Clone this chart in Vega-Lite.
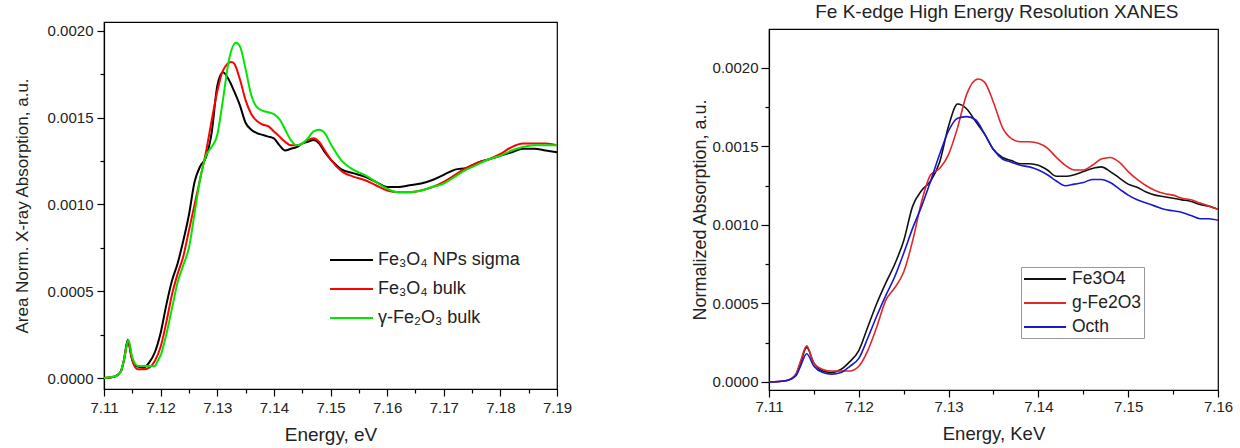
{
"$schema": "https://vega.github.io/schema/vega-lite/v6.json",
"padding": {"left": 12, "top": 2, "right": 5, "bottom": 0},
"config": {"font": "Liberation Sans", "view": {"stroke": "black", "strokeWidth": 1.2},
  "axis": {"grid": false, "domainColor": "black", "tickColor": "black", "labelColor": "#222", "titleColor": "#222", "titleFontWeight": "normal", "domainWidth": 1.2, "tickWidth": 1.2},
  "title": {"fontWeight": "normal", "color": "#222"}},
"datasets": {
"left": [
{"s":"Fe₃O₄ NPs sigma","e":7.110,"v":0},{"s":"Fe₃O₄ NPs sigma","e":7.111,"v":0.000002},{"s":"Fe₃O₄ NPs sigma","e":7.112,"v":0.00001},{"s":"Fe₃O₄ NPs sigma","e":7.113,"v":0.00004},{"s":"Fe₃O₄ NPs sigma","e":7.1135,"v":0.0001},{"s":"Fe₃O₄ NPs sigma","e":7.1142,"v":0.00022},{"s":"Fe₃O₄ NPs sigma","e":7.1148,"v":0.00013},{"s":"Fe₃O₄ NPs sigma","e":7.1155,"v":0.00007},{"s":"Fe₃O₄ NPs sigma","e":7.117,"v":0.00006},{"s":"Fe₃O₄ NPs sigma","e":7.118,"v":0.00009},{"s":"Fe₃O₄ NPs sigma","e":7.119,"v":0.00015},{"s":"Fe₃O₄ NPs sigma","e":7.120,"v":0.00026},{"s":"Fe₃O₄ NPs sigma","e":7.121,"v":0.00042},{"s":"Fe₃O₄ NPs sigma","e":7.122,"v":0.00056},{"s":"Fe₃O₄ NPs sigma","e":7.123,"v":0.00066},{"s":"Fe₃O₄ NPs sigma","e":7.124,"v":0.00079},{"s":"Fe₃O₄ NPs sigma","e":7.125,"v":0.00094},{"s":"Fe₃O₄ NPs sigma","e":7.126,"v":0.00113},{"s":"Fe₃O₄ NPs sigma","e":7.127,"v":0.00122},{"s":"Fe₃O₄ NPs sigma","e":7.128,"v":0.00127},{"s":"Fe₃O₄ NPs sigma","e":7.129,"v":0.00141},{"s":"Fe₃O₄ NPs sigma","e":7.130,"v":0.00168},{"s":"Fe₃O₄ NPs sigma","e":7.131,"v":0.00176},{"s":"Fe₃O₄ NPs sigma","e":7.132,"v":0.00172},{"s":"Fe₃O₄ NPs sigma","e":7.133,"v":0.00165},{"s":"Fe₃O₄ NPs sigma","e":7.134,"v":0.00157},{"s":"Fe₃O₄ NPs sigma","e":7.135,"v":0.00147},{"s":"Fe₃O₄ NPs sigma","e":7.136,"v":0.00143},{"s":"Fe₃O₄ NPs sigma","e":7.137,"v":0.00141},{"s":"Fe₃O₄ NPs sigma","e":7.138,"v":0.0014},{"s":"Fe₃O₄ NPs sigma","e":7.139,"v":0.00139},{"s":"Fe₃O₄ NPs sigma","e":7.140,"v":0.00138},{"s":"Fe₃O₄ NPs sigma","e":7.141,"v":0.00134},{"s":"Fe₃O₄ NPs sigma","e":7.142,"v":0.00131},{"s":"Fe₃O₄ NPs sigma","e":7.143,"v":0.00132},{"s":"Fe₃O₄ NPs sigma","e":7.144,"v":0.00133},{"s":"Fe₃O₄ NPs sigma","e":7.145,"v":0.00135},{"s":"Fe₃O₄ NPs sigma","e":7.146,"v":0.00136},{"s":"Fe₃O₄ NPs sigma","e":7.147,"v":0.00137},{"s":"Fe₃O₄ NPs sigma","e":7.148,"v":0.00135},{"s":"Fe₃O₄ NPs sigma","e":7.149,"v":0.0013},{"s":"Fe₃O₄ NPs sigma","e":7.150,"v":0.00126},{"s":"Fe₃O₄ NPs sigma","e":7.152,"v":0.0012},{"s":"Fe₃O₄ NPs sigma","e":7.154,"v":0.00118},{"s":"Fe₃O₄ NPs sigma","e":7.156,"v":0.00116},{"s":"Fe₃O₄ NPs sigma","e":7.158,"v":0.00113},{"s":"Fe₃O₄ NPs sigma","e":7.160,"v":0.0011},{"s":"Fe₃O₄ NPs sigma","e":7.162,"v":0.0011},{"s":"Fe₃O₄ NPs sigma","e":7.164,"v":0.00111},{"s":"Fe₃O₄ NPs sigma","e":7.166,"v":0.00112},{"s":"Fe₃O₄ NPs sigma","e":7.168,"v":0.00114},{"s":"Fe₃O₄ NPs sigma","e":7.170,"v":0.00117},{"s":"Fe₃O₄ NPs sigma","e":7.172,"v":0.0012},{"s":"Fe₃O₄ NPs sigma","e":7.174,"v":0.00121},{"s":"Fe₃O₄ NPs sigma","e":7.176,"v":0.00124},{"s":"Fe₃O₄ NPs sigma","e":7.178,"v":0.00126},{"s":"Fe₃O₄ NPs sigma","e":7.180,"v":0.00128},{"s":"Fe₃O₄ NPs sigma","e":7.182,"v":0.0013},{"s":"Fe₃O₄ NPs sigma","e":7.184,"v":0.00132},{"s":"Fe₃O₄ NPs sigma","e":7.186,"v":0.00132},{"s":"Fe₃O₄ NPs sigma","e":7.188,"v":0.00131},{"s":"Fe₃O₄ NPs sigma","e":7.190,"v":0.0013},
{"s":"Fe₃O₄ bulk","e":7.110,"v":0},{"s":"Fe₃O₄ bulk","e":7.112,"v":0.00001},{"s":"Fe₃O₄ bulk","e":7.113,"v":0.00004},{"s":"Fe₃O₄ bulk","e":7.1135,"v":0.0001},{"s":"Fe₃O₄ bulk","e":7.1143,"v":0.00021},{"s":"Fe₃O₄ bulk","e":7.115,"v":0.0001},{"s":"Fe₃O₄ bulk","e":7.116,"v":0.00005},{"s":"Fe₃O₄ bulk","e":7.117,"v":0.00005},{"s":"Fe₃O₄ bulk","e":7.118,"v":0.00006},{"s":"Fe₃O₄ bulk","e":7.119,"v":0.0001},{"s":"Fe₃O₄ bulk","e":7.120,"v":0.00018},{"s":"Fe₃O₄ bulk","e":7.121,"v":0.00032},{"s":"Fe₃O₄ bulk","e":7.122,"v":0.00048},{"s":"Fe₃O₄ bulk","e":7.123,"v":0.0006},{"s":"Fe₃O₄ bulk","e":7.124,"v":0.0007},{"s":"Fe₃O₄ bulk","e":7.125,"v":0.00085},{"s":"Fe₃O₄ bulk","e":7.126,"v":0.001},{"s":"Fe₃O₄ bulk","e":7.127,"v":0.00115},{"s":"Fe₃O₄ bulk","e":7.128,"v":0.0013},{"s":"Fe₃O₄ bulk","e":7.129,"v":0.00148},{"s":"Fe₃O₄ bulk","e":7.130,"v":0.00165},{"s":"Fe₃O₄ bulk","e":7.131,"v":0.00177},{"s":"Fe₃O₄ bulk","e":7.1325,"v":0.00182},{"s":"Fe₃O₄ bulk","e":7.133,"v":0.00181},{"s":"Fe₃O₄ bulk","e":7.134,"v":0.00172},{"s":"Fe₃O₄ bulk","e":7.135,"v":0.0016},{"s":"Fe₃O₄ bulk","e":7.136,"v":0.00152},{"s":"Fe₃O₄ bulk","e":7.137,"v":0.00148},{"s":"Fe₃O₄ bulk","e":7.138,"v":0.00146},{"s":"Fe₃O₄ bulk","e":7.139,"v":0.00145},{"s":"Fe₃O₄ bulk","e":7.140,"v":0.00142},{"s":"Fe₃O₄ bulk","e":7.141,"v":0.00139},{"s":"Fe₃O₄ bulk","e":7.142,"v":0.00136},{"s":"Fe₃O₄ bulk","e":7.143,"v":0.00134},{"s":"Fe₃O₄ bulk","e":7.144,"v":0.00134},{"s":"Fe₃O₄ bulk","e":7.145,"v":0.00135},{"s":"Fe₃O₄ bulk","e":7.146,"v":0.00137},{"s":"Fe₃O₄ bulk","e":7.147,"v":0.00138},{"s":"Fe₃O₄ bulk","e":7.148,"v":0.00136},{"s":"Fe₃O₄ bulk","e":7.149,"v":0.00131},{"s":"Fe₃O₄ bulk","e":7.150,"v":0.00126},{"s":"Fe₃O₄ bulk","e":7.152,"v":0.00119},{"s":"Fe₃O₄ bulk","e":7.154,"v":0.00116},{"s":"Fe₃O₄ bulk","e":7.156,"v":0.00114},{"s":"Fe₃O₄ bulk","e":7.158,"v":0.00111},{"s":"Fe₃O₄ bulk","e":7.160,"v":0.00108},{"s":"Fe₃O₄ bulk","e":7.162,"v":0.00107},{"s":"Fe₃O₄ bulk","e":7.164,"v":0.00107},{"s":"Fe₃O₄ bulk","e":7.166,"v":0.00108},{"s":"Fe₃O₄ bulk","e":7.168,"v":0.0011},{"s":"Fe₃O₄ bulk","e":7.170,"v":0.00113},{"s":"Fe₃O₄ bulk","e":7.172,"v":0.00117},{"s":"Fe₃O₄ bulk","e":7.174,"v":0.00121},{"s":"Fe₃O₄ bulk","e":7.176,"v":0.00124},{"s":"Fe₃O₄ bulk","e":7.178,"v":0.00126},{"s":"Fe₃O₄ bulk","e":7.180,"v":0.00129},{"s":"Fe₃O₄ bulk","e":7.182,"v":0.00133},{"s":"Fe₃O₄ bulk","e":7.184,"v":0.00135},{"s":"Fe₃O₄ bulk","e":7.186,"v":0.00135},{"s":"Fe₃O₄ bulk","e":7.188,"v":0.00135},{"s":"Fe₃O₄ bulk","e":7.190,"v":0.00134},
{"s":"γ-Fe₂O₃ bulk","e":7.110,"v":0},{"s":"γ-Fe₂O₃ bulk","e":7.112,"v":0.00001},{"s":"γ-Fe₂O₃ bulk","e":7.113,"v":0.00004},{"s":"γ-Fe₂O₃ bulk","e":7.1135,"v":0.0001},{"s":"γ-Fe₂O₃ bulk","e":7.1143,"v":0.00022},{"s":"γ-Fe₂O₃ bulk","e":7.115,"v":0.00012},{"s":"γ-Fe₂O₃ bulk","e":7.116,"v":0.00007},{"s":"γ-Fe₂O₃ bulk","e":7.117,"v":0.00007},{"s":"γ-Fe₂O₃ bulk","e":7.118,"v":0.00007},{"s":"γ-Fe₂O₃ bulk","e":7.119,"v":0.00007},{"s":"γ-Fe₂O₃ bulk","e":7.1195,"v":0.0001},{"s":"γ-Fe₂O₃ bulk","e":7.120,"v":0.00013},{"s":"γ-Fe₂O₃ bulk","e":7.121,"v":0.00025},{"s":"γ-Fe₂O₃ bulk","e":7.122,"v":0.0004},{"s":"γ-Fe₂O₃ bulk","e":7.123,"v":0.00055},{"s":"γ-Fe₂O₃ bulk","e":7.124,"v":0.00065},{"s":"γ-Fe₂O₃ bulk","e":7.125,"v":0.00075},{"s":"γ-Fe₂O₃ bulk","e":7.126,"v":0.00095},{"s":"γ-Fe₂O₃ bulk","e":7.127,"v":0.00115},{"s":"γ-Fe₂O₃ bulk","e":7.128,"v":0.00128},{"s":"γ-Fe₂O₃ bulk","e":7.129,"v":0.00133},{"s":"γ-Fe₂O₃ bulk","e":7.130,"v":0.0014},{"s":"γ-Fe₂O₃ bulk","e":7.131,"v":0.0016},{"s":"γ-Fe₂O₃ bulk","e":7.132,"v":0.00182},{"s":"γ-Fe₂O₃ bulk","e":7.1333,"v":0.00193},{"s":"γ-Fe₂O₃ bulk","e":7.134,"v":0.00191},{"s":"γ-Fe₂O₃ bulk","e":7.135,"v":0.00178},{"s":"γ-Fe₂O₃ bulk","e":7.136,"v":0.00163},{"s":"γ-Fe₂O₃ bulk","e":7.137,"v":0.00156},{"s":"γ-Fe₂O₃ bulk","e":7.138,"v":0.00154},{"s":"γ-Fe₂O₃ bulk","e":7.139,"v":0.00153},{"s":"γ-Fe₂O₃ bulk","e":7.140,"v":0.00152},{"s":"γ-Fe₂O₃ bulk","e":7.141,"v":0.00149},{"s":"γ-Fe₂O₃ bulk","e":7.142,"v":0.00143},{"s":"γ-Fe₂O₃ bulk","e":7.143,"v":0.00137},{"s":"γ-Fe₂O₃ bulk","e":7.144,"v":0.00134},{"s":"γ-Fe₂O₃ bulk","e":7.145,"v":0.00135},{"s":"γ-Fe₂O₃ bulk","e":7.146,"v":0.00138},{"s":"γ-Fe₂O₃ bulk","e":7.147,"v":0.00142},{"s":"γ-Fe₂O₃ bulk","e":7.148,"v":0.00143},{"s":"γ-Fe₂O₃ bulk","e":7.149,"v":0.00141},{"s":"γ-Fe₂O₃ bulk","e":7.150,"v":0.00135},{"s":"γ-Fe₂O₃ bulk","e":7.152,"v":0.00125},{"s":"γ-Fe₂O₃ bulk","e":7.154,"v":0.0012},{"s":"γ-Fe₂O₃ bulk","e":7.156,"v":0.00117},{"s":"γ-Fe₂O₃ bulk","e":7.158,"v":0.00113},{"s":"γ-Fe₂O₃ bulk","e":7.160,"v":0.00109},{"s":"γ-Fe₂O₃ bulk","e":7.162,"v":0.00107},{"s":"γ-Fe₂O₃ bulk","e":7.164,"v":0.00107},{"s":"γ-Fe₂O₃ bulk","e":7.166,"v":0.00108},{"s":"γ-Fe₂O₃ bulk","e":7.168,"v":0.0011},{"s":"γ-Fe₂O₃ bulk","e":7.170,"v":0.00112},{"s":"γ-Fe₂O₃ bulk","e":7.172,"v":0.00116},{"s":"γ-Fe₂O₃ bulk","e":7.174,"v":0.0012},{"s":"γ-Fe₂O₃ bulk","e":7.176,"v":0.00123},{"s":"γ-Fe₂O₃ bulk","e":7.178,"v":0.00126},{"s":"γ-Fe₂O₃ bulk","e":7.180,"v":0.00128},{"s":"γ-Fe₂O₃ bulk","e":7.182,"v":0.00131},{"s":"γ-Fe₂O₃ bulk","e":7.184,"v":0.00133},{"s":"γ-Fe₂O₃ bulk","e":7.186,"v":0.00134},{"s":"γ-Fe₂O₃ bulk","e":7.188,"v":0.00134},{"s":"γ-Fe₂O₃ bulk","e":7.190,"v":0.00134}
],
"right": [
{"s":"Fe3O4","e":7.110,"v":0},{"s":"Fe3O4","e":7.112,"v":0.00001},{"s":"Fe3O4","e":7.113,"v":0.00005},{"s":"Fe3O4","e":7.1135,"v":0.00012},{"s":"Fe3O4","e":7.1142,"v":0.00022},{"s":"Fe3O4","e":7.115,"v":0.00012},{"s":"Fe3O4","e":7.116,"v":0.00007},{"s":"Fe3O4","e":7.117,"v":0.00006},{"s":"Fe3O4","e":7.118,"v":0.00008},{"s":"Fe3O4","e":7.119,"v":0.00013},{"s":"Fe3O4","e":7.120,"v":0.0002},{"s":"Fe3O4","e":7.121,"v":0.00035},{"s":"Fe3O4","e":7.122,"v":0.0005},{"s":"Fe3O4","e":7.123,"v":0.00063},{"s":"Fe3O4","e":7.124,"v":0.00075},{"s":"Fe3O4","e":7.125,"v":0.0009},{"s":"Fe3O4","e":7.126,"v":0.00112},{"s":"Fe3O4","e":7.127,"v":0.00122},{"s":"Fe3O4","e":7.128,"v":0.00128},{"s":"Fe3O4","e":7.129,"v":0.0014},{"s":"Fe3O4","e":7.130,"v":0.00163},{"s":"Fe3O4","e":7.131,"v":0.00177},{"s":"Fe3O4","e":7.132,"v":0.00174},{"s":"Fe3O4","e":7.133,"v":0.00166},{"s":"Fe3O4","e":7.134,"v":0.00158},{"s":"Fe3O4","e":7.135,"v":0.00148},{"s":"Fe3O4","e":7.136,"v":0.00143},{"s":"Fe3O4","e":7.137,"v":0.00141},{"s":"Fe3O4","e":7.138,"v":0.00139},{"s":"Fe3O4","e":7.139,"v":0.00139},{"s":"Fe3O4","e":7.140,"v":0.00138},{"s":"Fe3O4","e":7.141,"v":0.00135},{"s":"Fe3O4","e":7.142,"v":0.00131},{"s":"Fe3O4","e":7.143,"v":0.00131},{"s":"Fe3O4","e":7.144,"v":0.00132},{"s":"Fe3O4","e":7.145,"v":0.00134},{"s":"Fe3O4","e":7.146,"v":0.00136},{"s":"Fe3O4","e":7.147,"v":0.00137},{"s":"Fe3O4","e":7.148,"v":0.00134},{"s":"Fe3O4","e":7.149,"v":0.0013},{"s":"Fe3O4","e":7.150,"v":0.00126},{"s":"Fe3O4","e":7.151,"v":0.00124},{"s":"Fe3O4","e":7.152,"v":0.00121},{"s":"Fe3O4","e":7.153,"v":0.00119},{"s":"Fe3O4","e":7.154,"v":0.00118},{"s":"Fe3O4","e":7.155,"v":0.00117},{"s":"Fe3O4","e":7.156,"v":0.00116},{"s":"Fe3O4","e":7.157,"v":0.00115},{"s":"Fe3O4","e":7.158,"v":0.00113},{"s":"Fe3O4","e":7.159,"v":0.00112},{"s":"Fe3O4","e":7.160,"v":0.0011},
{"s":"g-Fe2O3","e":7.110,"v":0},{"s":"g-Fe2O3","e":7.112,"v":0.00001},{"s":"g-Fe2O3","e":7.113,"v":0.00005},{"s":"g-Fe2O3","e":7.1135,"v":0.00013},{"s":"g-Fe2O3","e":7.1142,"v":0.00023},{"s":"g-Fe2O3","e":7.115,"v":0.00012},{"s":"g-Fe2O3","e":7.116,"v":0.00008},{"s":"g-Fe2O3","e":7.117,"v":0.00007},{"s":"g-Fe2O3","e":7.118,"v":0.00007},{"s":"g-Fe2O3","e":7.119,"v":0.00007},{"s":"g-Fe2O3","e":7.120,"v":0.0001},{"s":"g-Fe2O3","e":7.121,"v":0.0002},{"s":"g-Fe2O3","e":7.122,"v":0.00035},{"s":"g-Fe2O3","e":7.123,"v":0.00052},{"s":"g-Fe2O3","e":7.124,"v":0.0006},{"s":"g-Fe2O3","e":7.125,"v":0.0007},{"s":"g-Fe2O3","e":7.126,"v":0.0009},{"s":"g-Fe2O3","e":7.127,"v":0.00115},{"s":"g-Fe2O3","e":7.128,"v":0.00132},{"s":"g-Fe2O3","e":7.129,"v":0.00136},{"s":"g-Fe2O3","e":7.130,"v":0.00145},{"s":"g-Fe2O3","e":7.131,"v":0.00162},{"s":"g-Fe2O3","e":7.132,"v":0.00183},{"s":"g-Fe2O3","e":7.1333,"v":0.00193},{"s":"g-Fe2O3","e":7.134,"v":0.00191},{"s":"g-Fe2O3","e":7.135,"v":0.00178},{"s":"g-Fe2O3","e":7.136,"v":0.00162},{"s":"g-Fe2O3","e":7.137,"v":0.00155},{"s":"g-Fe2O3","e":7.138,"v":0.00153},{"s":"g-Fe2O3","e":7.139,"v":0.00153},{"s":"g-Fe2O3","e":7.140,"v":0.00152},{"s":"g-Fe2O3","e":7.141,"v":0.00149},{"s":"g-Fe2O3","e":7.142,"v":0.00143},{"s":"g-Fe2O3","e":7.143,"v":0.00138},{"s":"g-Fe2O3","e":7.144,"v":0.00135},{"s":"g-Fe2O3","e":7.145,"v":0.00135},{"s":"g-Fe2O3","e":7.146,"v":0.00138},{"s":"g-Fe2O3","e":7.147,"v":0.00142},{"s":"g-Fe2O3","e":7.148,"v":0.00143},{"s":"g-Fe2O3","e":7.149,"v":0.0014},{"s":"g-Fe2O3","e":7.150,"v":0.00134},{"s":"g-Fe2O3","e":7.151,"v":0.00129},{"s":"g-Fe2O3","e":7.152,"v":0.00125},{"s":"g-Fe2O3","e":7.153,"v":0.00122},{"s":"g-Fe2O3","e":7.154,"v":0.0012},{"s":"g-Fe2O3","e":7.155,"v":0.00119},{"s":"g-Fe2O3","e":7.156,"v":0.00117},{"s":"g-Fe2O3","e":7.157,"v":0.00116},{"s":"g-Fe2O3","e":7.158,"v":0.00114},{"s":"g-Fe2O3","e":7.159,"v":0.00112},{"s":"g-Fe2O3","e":7.160,"v":0.0011},
{"s":"Octh","e":7.110,"v":0},{"s":"Octh","e":7.112,"v":0.00001},{"s":"Octh","e":7.113,"v":0.00004},{"s":"Octh","e":7.1135,"v":0.0001},{"s":"Octh","e":7.1142,"v":0.00018},{"s":"Octh","e":7.115,"v":0.0001},{"s":"Octh","e":7.116,"v":0.00006},{"s":"Octh","e":7.117,"v":0.00005},{"s":"Octh","e":7.118,"v":0.00006},{"s":"Octh","e":7.119,"v":0.0001},{"s":"Octh","e":7.120,"v":0.00015},{"s":"Octh","e":7.121,"v":0.00028},{"s":"Octh","e":7.122,"v":0.00042},{"s":"Octh","e":7.123,"v":0.00055},{"s":"Octh","e":7.124,"v":0.00067},{"s":"Octh","e":7.125,"v":0.00082},{"s":"Octh","e":7.126,"v":0.00098},{"s":"Octh","e":7.127,"v":0.00112},{"s":"Octh","e":7.128,"v":0.00128},{"s":"Octh","e":7.129,"v":0.00145},{"s":"Octh","e":7.130,"v":0.0016},{"s":"Octh","e":7.131,"v":0.00168},{"s":"Octh","e":7.132,"v":0.00169},{"s":"Octh","e":7.133,"v":0.00167},{"s":"Octh","e":7.134,"v":0.00158},{"s":"Octh","e":7.135,"v":0.00148},{"s":"Octh","e":7.136,"v":0.00142},{"s":"Octh","e":7.137,"v":0.0014},{"s":"Octh","e":7.138,"v":0.00138},{"s":"Octh","e":7.139,"v":0.00137},{"s":"Octh","e":7.140,"v":0.00135},{"s":"Octh","e":7.141,"v":0.00132},{"s":"Octh","e":7.142,"v":0.00128},{"s":"Octh","e":7.143,"v":0.00125},{"s":"Octh","e":7.144,"v":0.00126},{"s":"Octh","e":7.145,"v":0.00127},{"s":"Octh","e":7.146,"v":0.00129},{"s":"Octh","e":7.147,"v":0.00129},{"s":"Octh","e":7.148,"v":0.00127},{"s":"Octh","e":7.149,"v":0.00123},{"s":"Octh","e":7.150,"v":0.00119},{"s":"Octh","e":7.151,"v":0.00116},{"s":"Octh","e":7.152,"v":0.00114},{"s":"Octh","e":7.153,"v":0.00112},{"s":"Octh","e":7.154,"v":0.0011},{"s":"Octh","e":7.155,"v":0.00109},{"s":"Octh","e":7.156,"v":0.00108},{"s":"Octh","e":7.157,"v":0.00106},{"s":"Octh","e":7.158,"v":0.00104},{"s":"Octh","e":7.159,"v":0.00104},{"s":"Octh","e":7.160,"v":0.00103}
],
"spacer": [{"k": 1}]
},
"spacing": 117,
"resolve": {"scale": {"color": "independent"}, "legend": {"color": "independent"}},
"hconcat": [
{
 "width": 453, "height": 367,
 "data": {"name": "left"},
 "layer": [
 {"mark": {"type": "line", "interpolate": "monotone", "strokeWidth": 2, "clip": true},
 "encoding": {
  "x": {"field": "e", "type": "quantitative", "scale": {"domain": [7.11, 7.19], "nice": false, "zero": false},
   "axis": {"title": "Energy, eV", "values": [7.11,7.12,7.13,7.14,7.15,7.16,7.17,7.18,7.19], "format": ".2f", "labelFontSize": 15, "titleFontSize": 19, "tickSize": 7, "labelPadding": 4, "titlePadding": 10, "labelFlush": false}},
  "y": {"field": "v", "type": "quantitative", "scale": {"domain": [-0.000063, 0.00205], "nice": false, "zero": false},
   "axis": {"title": "Area Norm. X-ray Absorption, a.u.", "values": [0, 0.0005, 0.001, 0.0015, 0.002], "format": ".4f", "labelFontSize": 15, "titleFontSize": 17, "tickSize": 7, "labelPadding": 4, "titlePadding": 16}},
  "color": {"field": "s", "type": "nominal", "sort": ["Fe₃O₄ NPs sigma", "Fe₃O₄ bulk", "γ-Fe₂O₃ bulk"],
   "scale": {"domain": ["Fe₃O₄ NPs sigma", "Fe₃O₄ bulk", "γ-Fe₂O₃ bulk"], "range": ["#000000", "#ff0000", "#00e600"]},
   "legend": {"title": null, "orient": "none", "legendX": 225, "legendY": 227, "symbolType": "M-1,0H3.3", "symbolSize": 400, "symbolStrokeWidth": 2, "labelFontSize": 18, "labelColor": "#222", "rowPadding": 9, "labelOffset": 27, "padding": 0}}
 }},
 {"mark": {"type": "line", "opacity": 0},
 "encoding": {
  "x": {"field": "e", "type": "quantitative", "axis": {"orient": "bottom", "values": [7.115,7.125,7.135,7.145,7.155,7.165,7.175,7.185], "labels": false, "domain": false, "title": null, "tickSize": 4}},
  "y": {"field": "v", "type": "quantitative", "axis": {"orient": "left", "values": [0.00025, 0.00075, 0.00125, 0.00175], "labels": false, "domain": false, "title": null, "tickSize": 4}}
 }}
 ],
 "resolve": {"axis": {"x": "independent", "y": "independent"}}
},
{
 "title": {"text": "Fe K-edge High Energy Resolution XANES", "fontSize": 19, "offset": -2, "anchor": "middle", "dx": 35},
 "spacing": 2,
 "vconcat": [
 {
  "width": 449, "height": 1,
  "view": {"stroke": null},
  "data": {"name": "spacer"},
  "mark": {"type": "point", "opacity": 0},
  "encoding": {}
 },
 {
 "width": 449, "height": 361,
 "data": {"name": "right"},
 "layer": [
 {"mark": {"type": "line", "interpolate": "monotone", "strokeWidth": 1.6, "clip": true},
 "encoding": {
  "x": {"field": "e", "type": "quantitative", "scale": {"domain": [7.11, 7.16], "nice": false, "zero": false},
   "axis": {"title": "Energy, KeV", "values": [7.11,7.12,7.13,7.14,7.15,7.16], "format": ".2f", "labelFontSize": 15, "titleFontSize": 18.5, "tickSize": 7, "labelPadding": 2, "titlePadding": 10, "labelFlush": false}},
  "y": {"field": "v", "type": "quantitative", "scale": {"domain": [-0.000051, 0.002248], "nice": false, "zero": false},
   "axis": {"title": "Normalized Absorption, a.u.", "values": [0, 0.0005, 0.001, 0.0015, 0.002], "format": ".4f", "labelFontSize": 15, "titleFontSize": 18, "tickSize": 8, "labelPadding": 3, "titlePadding": 3}},
  "color": {"field": "s", "type": "nominal", "sort": ["Fe3O4", "g-Fe2O3", "Octh"],
   "scale": {"domain": ["Fe3O4", "g-Fe2O3", "Octh"], "range": ["#111111", "#e02828", "#1818d0"]},
   "legend": {"title": null, "orient": "none", "legendX": 252, "legendY": 245, "symbolType": "M-1,0H3.67", "symbolSize": 324, "symbolStrokeWidth": 2, "labelFontSize": 17.5, "labelColor": "#222", "rowPadding": 5, "labelOffset": 29, "padding": 2, "strokeColor": "#999999"}}
 }},
 {"mark": {"type": "line", "opacity": 0},
 "encoding": {
  "x": {"field": "e", "type": "quantitative", "axis": {"orient": "bottom", "values": [7.115,7.125,7.135,7.145,7.155], "labels": false, "domain": false, "title": null, "tickSize": 4}},
  "y": {"field": "v", "type": "quantitative", "axis": {"orient": "left", "values": [0.00025, 0.00075, 0.00125, 0.00175], "labels": false, "domain": false, "title": null, "tickSize": 4}}
 }}
 ],
 "resolve": {"axis": {"x": "independent", "y": "independent"}}
 }
 ]
}
]
}
